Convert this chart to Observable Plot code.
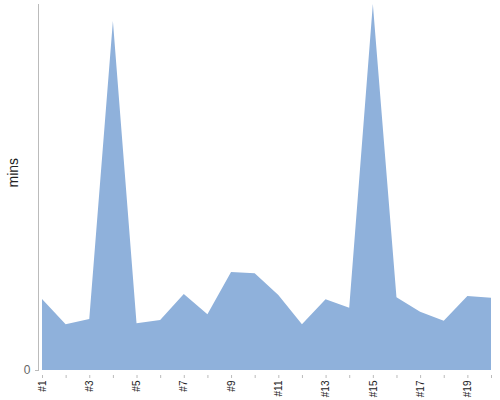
<!DOCTYPE html>
<html>
<head>
<meta charset="utf-8">
<script src="https://cdn.jsdelivr.net/npm/d3@7"></script>
<script src="https://cdn.jsdelivr.net/npm/@observablehq/plot@0.6"></script>
<style>
  html, body { margin: 0; padding: 0; background: #fff; }
</style>
</head>
<body>
<div id="chart"></div>
<script>
const labels = ["#1","#2","#3","#4","#5","#6","#7","#8","#9","#10","#11","#12","#13","#14","#15","#16","#17","#18","#19","#20"];
const values = [7.1, 4.57, 5.1, 34.9, 4.67, 5.0, 7.6, 5.57, 9.8, 9.67, 7.5, 4.57, 7.07, 6.23, 36.6, 7.27, 5.83, 4.93, 7.4, 7.23];
const xTickLabels = ["#1","#3","#5","#7","#9","#11","#13","#15","#17","#19"];
const yTicks = [0];
const yLabel = "mins";

const data = labels.map((label, i) => ({label, value: values[i]}));

const chart = Plot.plot({
  width: 500,
  height: 400,
  marginTop: 4,
  marginBottom: 30,
  marginLeft: 38,
  marginRight: 9,
  style: {fontFamily: "'Liberation Sans', Arial, sans-serif", background: "white"},
  x: {type: "point", domain: labels, padding: 0, round: false, insetLeft: 4},
  y: {domain: [0, d3.max(values)]},
  marks: [
    Plot.areaY(data, {x: "label", y: "value", fill: "#8fb1db"}),
    Plot.frame({anchor: "left", stroke: "#bbb"}),
    Plot.axisY({ticks: yTicks, tickSize: 3, tickPadding: 5, stroke: "#bbb", fill: "#666", fontSize: 12, label: null}),
    Plot.ruleY([0], {x1: labels[0], x2: labels[labels.length - 1], dy: 5, stroke: "#bbb"}),
    Plot.axisX({ticks: labels, tickFormat: d => xTickLabels.includes(d) ? d : "", tickRotate: -90, tickSize: 3, tickPadding: 2, dy: 5, stroke: "#bbb", fill: "#222", fontSize: 10, label: null}),
    Plot.text([yLabel], {frameAnchor: "left", rotate: -90, dx: -25, dy: 0, fontSize: 14, fill: "#222"})
  ]
});
document.getElementById("chart").appendChild(chart);
</script>
</body>
</html>
